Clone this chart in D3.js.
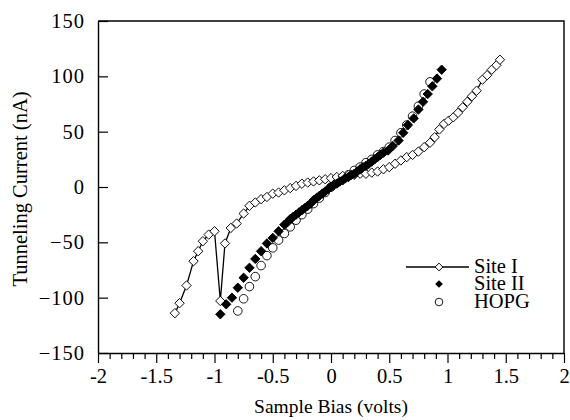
<!DOCTYPE html>
<html>
<head>
<meta charset="utf-8">
<script src="https://cdn.jsdelivr.net/npm/d3@7"></script>
<style>
  body { margin: 0; background: #fff; }
  text { font-family: "Liberation Serif", "Times New Roman", serif; }
</style>
</head>
<body>
<div id="container"></div>
<script>
/* DATA */
const siteIBias = [-1.34,-1.30,-1.24,-1.18,-1.14,-1.10,-1.05,-1.00,-0.95,-0.91,-0.86,-0.81,-0.75,-0.70,-0.65,-0.60,-0.55,-0.50,-0.45,-0.40,-0.35,-0.30,-0.25,-0.20,-0.15,-0.10,-0.05,0.00,0.05,0.10,0.15,0.20,0.25,0.30,0.35,0.40,0.45,0.50,0.55,0.60,0.65,0.70,0.75,0.80,0.85,0.89,0.93,0.97,1.01,1.05,1.09,1.13,1.17,1.21,1.25,1.30,1.34,1.38,1.42,1.45];
const siteICurrent = [-114,-105,-89,-67,-58,-49,-43,-40,-103,-51,-37,-33,-24,-17,-14,-11,-9,-6,-5,-3,-1,1,3,4,5,6,7,8,9,10,11,11,12,12,13,14,16,18,21,24,27,29,32,36,40,45,52,57,60,63,67,72,77,82,87,97,101,106,110,115];

const siteIIBias = [-0.95,-0.90,-0.85,-0.80,-0.75,-0.70,-0.65,-0.60,-0.55,-0.50,-0.45,-0.40,-0.375,-0.35,-0.325,-0.30,-0.275,-0.25,-0.225,-0.20,-0.175,-0.15,-0.125,-0.10,-0.075,-0.05,-0.025,0,0.025,0.05,0.075,0.10,0.125,0.15,0.175,0.20,0.225,0.25,0.275,0.30,0.325,0.35,0.375,0.40,0.425,0.45,0.49,0.53,0.58,0.62,0.66,0.71,0.75,0.79,0.83,0.87,0.91,0.95];
const siteIICurrent = [-115,-106,-100,-91,-82,-73,-65,-58,-51,-46,-40,-34,-32,-29,-27,-25,-23,-21,-19,-17,-15,-12,-10,-8,-6,-4,-2,0,2,3,5,6,8,9,11,12,14,16,18,19,21,23,25,27,29,31,33,37,42,49,56,62,70,77,84,91,98,106];

const hopgBias = [-0.80,-0.75,-0.70,-0.65,-0.60,-0.55,-0.50,-0.45,-0.40,-0.35,-0.30,-0.25,-0.20,-0.15,-0.10,-0.05,0,0.05,0.10,0.15,0.20,0.25,0.30,0.35,0.40,0.45,0.50,0.55,0.60,0.65,0.70,0.75,0.80,0.85];
const hopgCurrent = [-112,-101,-90,-81,-71,-62,-55,-48,-42,-36,-30,-25,-20,-15,-10,-5,0,4,8,11,15,18,22,25,29,32,36,42,49,56,64,73,84,95];

const xTicks = [-2,-1.5,-1,-0.5,0,0.5,1,1.5,2];
const yTicks = [-150,-100,-50,0,50,100,150];
const legendNames = ["Site I","Site II","HOPG"];

/* CONSTANTS */
const width = 570, height = 420;
const margin = {left: 98, right: 6, top: 21, bottom: 67};
const fontSize = 20.5;

const svg = d3.select("#container").append("svg")
  .attr("width", width).attr("height", height);

const xScale = d3.scaleLinear().domain([-2, 2]).range([margin.left, width - margin.right]);
const yScale = d3.scaleLinear().domain([-150, 150]).range([height - margin.bottom, margin.top]);

const toPts = (xs, ys) => xs.map((x, i) => ({x: x, y: ys[i]}));
const siteI = toPts(siteIBias, siteICurrent);
const siteII = toPts(siteIIBias, siteIICurrent);
const hopg = toPts(hopgBias, hopgCurrent);

/* AXES */
// minor ticks on x
const minor = d3.range(-20, 21).map(d => d / 10).filter(d => Math.abs(d * 2 - Math.round(d * 2)) > 1e-6);
svg.append("g")
  .attr("transform", `translate(0,${yScale(-150)})`)
  .call(d3.axisBottom(xScale).tickValues(minor).tickSize(6).tickFormat("").tickSizeOuter(0))
  .call(g => g.select(".domain").remove())
  .selectAll("line").attr("stroke-width", 1.2);

const xAxis = svg.append("g")
  .attr("transform", `translate(0,${yScale(-150)})`)
  .call(d3.axisBottom(xScale).tickValues(xTicks).tickSize(10).tickSizeOuter(0).tickPadding(5)
    .tickFormat(d => String(d)));
xAxis.selectAll("text").attr("font-size", fontSize).attr("fill", "#000");

const yAxis = svg.append("g")
  .attr("transform", `translate(${xScale(-2)},0)`)
  .call(d3.axisLeft(yScale).tickValues(yTicks).tickSize(-10).tickSizeOuter(0).tickPadding(13));
yAxis.selectAll("text").attr("font-size", fontSize).attr("letter-spacing", 1).attr("fill", "#000");

svg.selectAll(".domain").attr("stroke-width", 1.4);
svg.selectAll(".tick line").attr("stroke-width", 1.2);

// frame top and right
svg.append("path")
  .attr("d", `M${xScale(-2)},${yScale(150)}H${xScale(2)}V${yScale(-150)}`)
  .attr("fill", "none").attr("stroke", "#000").attr("stroke-width", 1.4);

// titles
svg.append("text")
  .attr("x", xScale(0)).attr("y", 413)
  .attr("text-anchor", "middle").attr("font-size", 19.5)
  .text("Sample Bias (volts)");
svg.append("text")
  .attr("transform", `translate(27,${yScale(0) + 2}) rotate(-90)`)
  .attr("text-anchor", "middle").attr("font-size", fontSize)
  .text("Tunneling Current (nA)");

/* MARKS */
const diamond = d3.symbol(d3.symbolSquare).size(44);

// HOPG
svg.append("g").selectAll("circle")
  .data(hopg).join("circle")
  .attr("cx", d => xScale(d.x)).attr("cy", d => yScale(d.y))
  .attr("r", 4.3)
  .attr("fill", "#fff").attr("stroke", "#000").attr("stroke-width", 0.9);

// Site I
const line = d3.line().x(d => xScale(d.x)).y(d => yScale(d.y));
svg.append("path").datum(siteI)
  .attr("d", line).attr("fill", "none").attr("stroke", "#000").attr("stroke-width", 1.3);
svg.append("g").selectAll("path")
  .data(siteI).join("path")
  .attr("d", diamond)
  .attr("transform", d => `translate(${xScale(d.x)},${yScale(d.y)}) rotate(45)`)
  .attr("fill", "#fff").attr("stroke", "#000").attr("stroke-width", 0.9);

// Site II
svg.append("g").selectAll("path")
  .data(siteII).join("path")
  .attr("d", diamond)
  .attr("transform", d => `translate(${xScale(d.x)},${yScale(d.y)}) rotate(45)`)
  .attr("fill", "#000").attr("stroke", "#000").attr("stroke-width", 0.9);

/* LEGEND */
const legend = svg.append("g");
const lx = 439, ly = [267, 284, 302];
legend.append("line")
  .attr("x1", lx - 33).attr("x2", lx + 30).attr("y1", ly[0]).attr("y2", ly[0])
  .attr("stroke", "#000").attr("stroke-width", 1.6);
legend.append("path")
  .attr("d", d3.symbol(d3.symbolSquare).size(30))
  .attr("transform", `translate(${lx},${ly[0]}) rotate(45)`)
  .attr("fill", "#fff").attr("stroke", "#000").attr("stroke-width", 0.9);
legend.append("path")
  .attr("d", d3.symbol(d3.symbolSquare).size(30))
  .attr("transform", `translate(${lx},${ly[1]}) rotate(45)`)
  .attr("fill", "#000");
legend.append("circle")
  .attr("cx", lx).attr("cy", ly[2]).attr("r", 3.8)
  .attr("fill", "#fff").attr("stroke", "#000").attr("stroke-width", 0.9);
legend.selectAll("text.lab")
  .data(legendNames).join("text")
  .attr("class", "lab")
  .attr("x", 474).attr("y", (d, i) => ly[i] + 6)
  .attr("font-size", 20.5)
  .text(d => d);
</script>
</body>
</html>
